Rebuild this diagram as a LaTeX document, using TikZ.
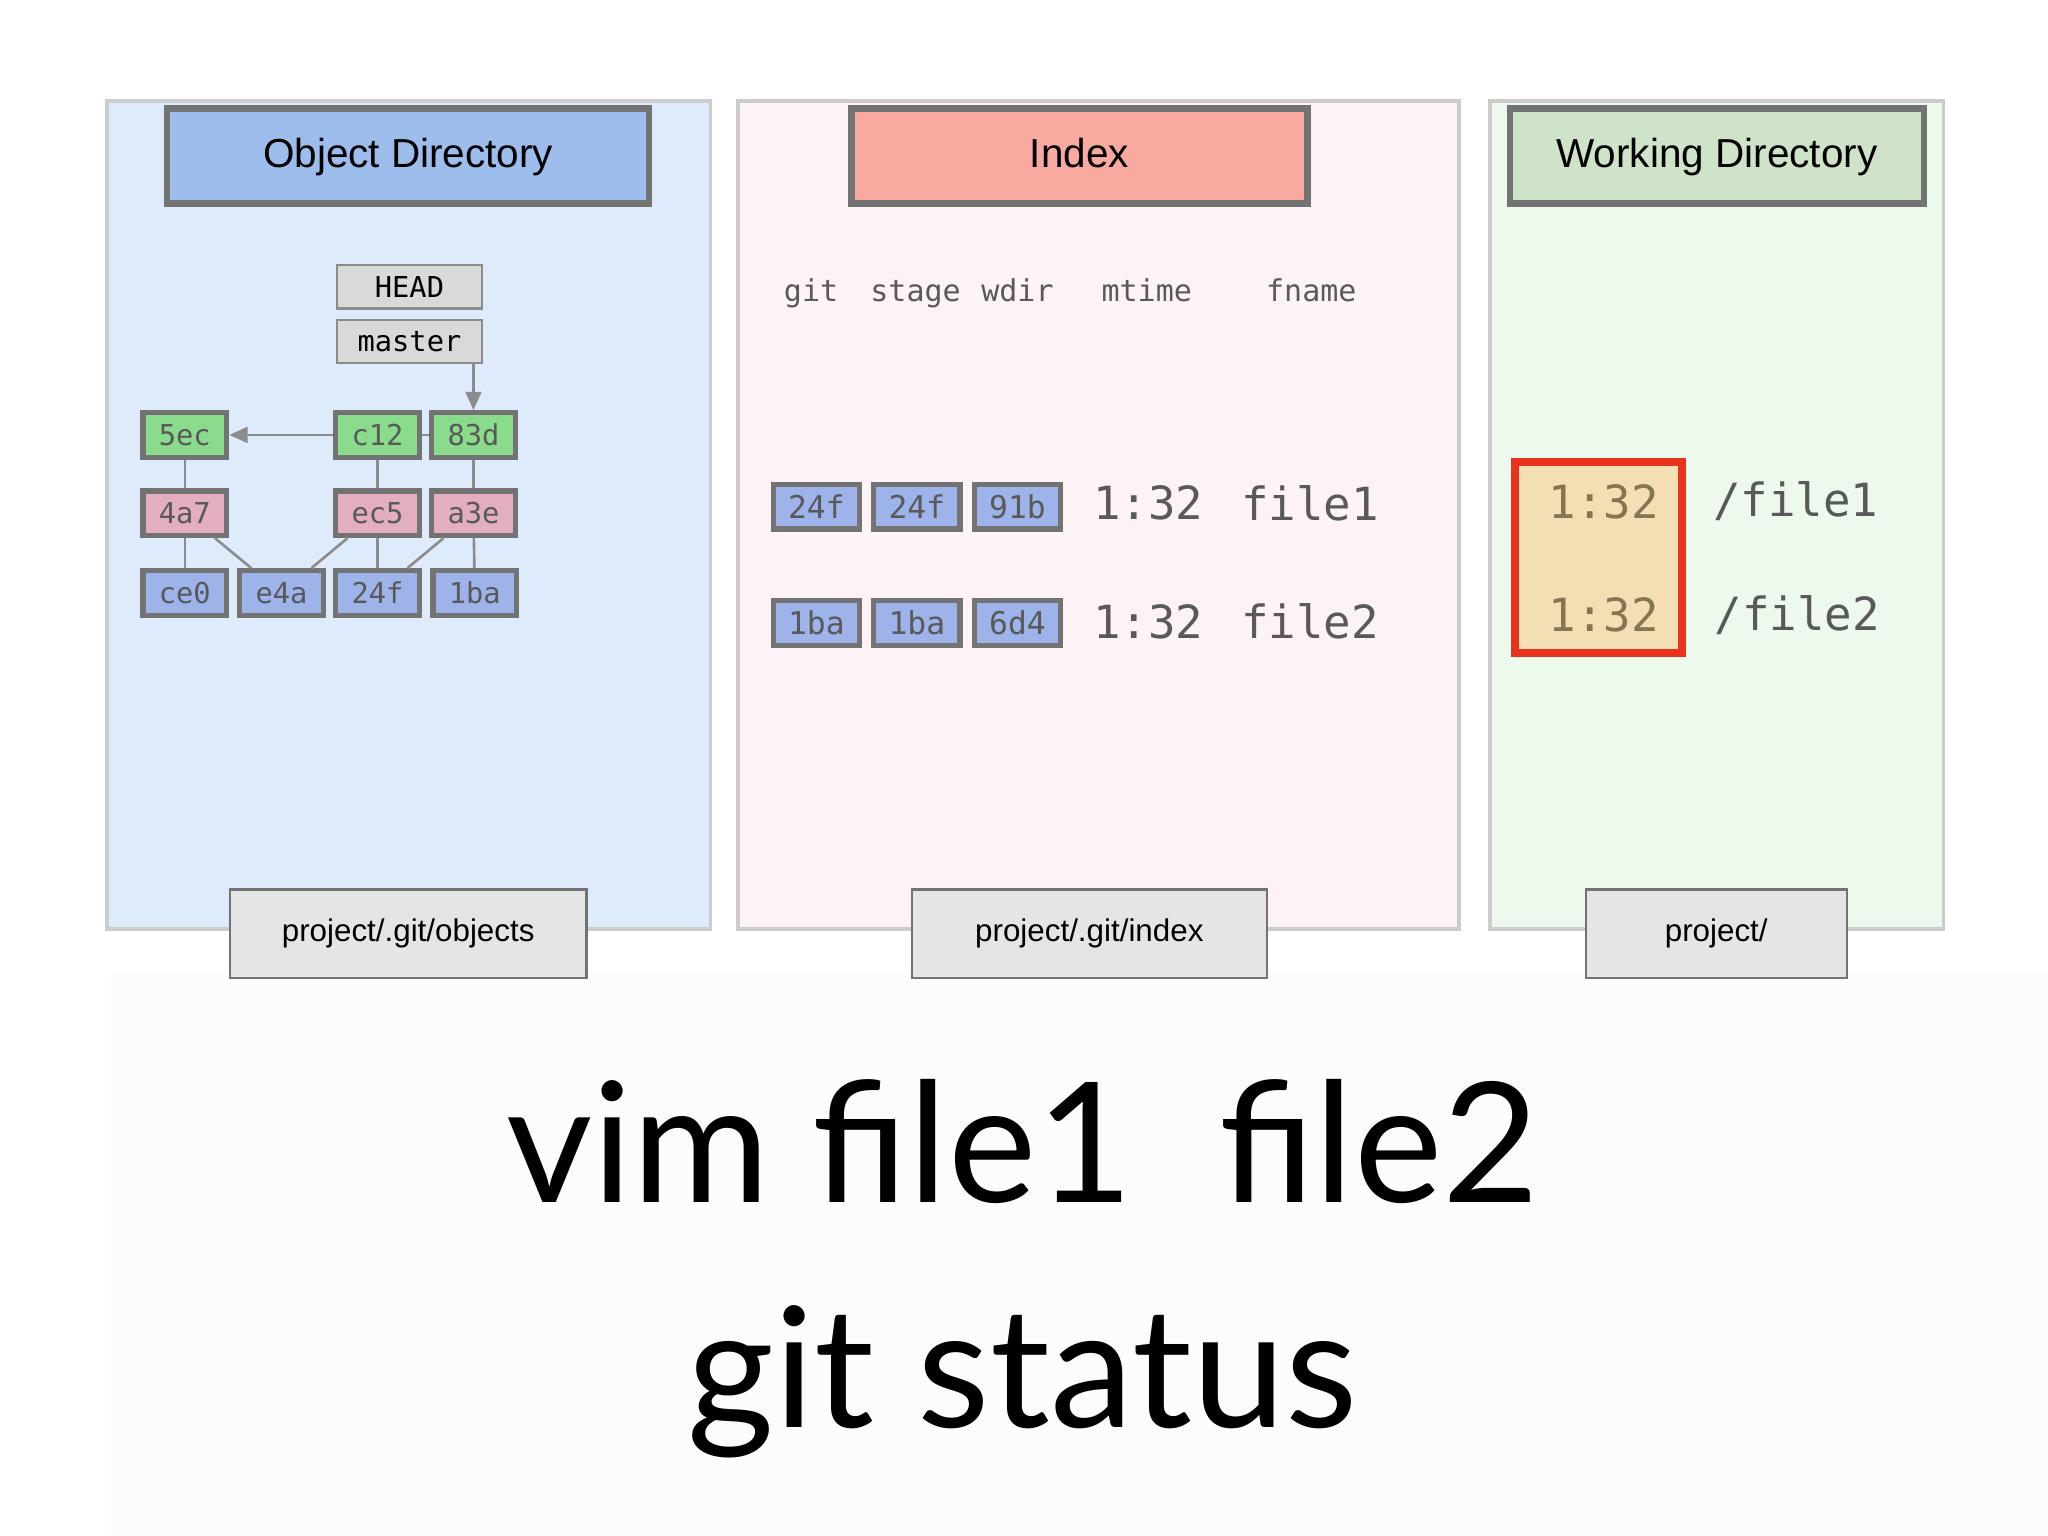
\documentclass[tikz,border=0pt]{standalone}
\usepackage{fontspec}
\usetikzlibrary{arrows.meta}
\setmainfont{Liberation Sans}
\setmonofont{DejaVu Sans Mono}
\newfontfamily\bigfont{Lato}
\begin{document}
\begin{tikzpicture}[x=0.5pt,y=-0.5pt,
  panel/.style={draw=black!20,line width=1.5pt},
  titlebox/.style={draw=black!55,line width=2.5pt,text height=10pt,text depth=1.5pt},
  pathbox/.style={draw=black!55,fill=black!10,line width=0.8pt,text height=8pt,text depth=2pt},
  obj/.style={draw=black!55,line width=2pt,font=\ttfamily\fontsize{11}{11}\selectfont,text=black!65},
  refb/.style={draw=black!45,fill=black!15,line width=1pt,font=\ttfamily\fontsize{11}{11}\selectfont,anchor=west,text=black},
  ln/.style={draw=black!45,line width=1pt},
  tip/.style={-{Triangle[length=7pt,width=6pt]}},
  idx/.style={font=\ttfamily\fontsize{17.5}{17.5}\selectfont,text=black!65},
  hdr/.style={font=\ttfamily\fontsize{11.5}{12}\selectfont,text=black!65,text height=8pt,text depth=2.5pt},
  ibox/.style={draw=black!55,line width=2pt,fill=cblue,font=\ttfamily\fontsize{12}{12}\selectfont,text=black!65,minimum width=33pt,minimum height=17pt,inner sep=0pt}]
\definecolor{cblue}{HTML}{9DB3EA}
\definecolor{cgreen}{HTML}{8ADC8C}
\definecolor{cpink}{HTML}{E2AEC0}
\definecolor{wtext}{HTML}{857552}
\useasboundingbox (0,0) rectangle (1568,1176);
\fill[white!99!black] (85,745) rectangle (1568,1176);
% panels
\path[panel,fill={rgb,255:red,222;green,235;blue,251}] (82,77) rectangle (544,711);
\path[panel,fill={rgb,255:red,253;green,243;blue,246}] (565,77) rectangle (1117,711);
\path[panel,fill={rgb,255:red,238;green,249;blue,238}] (1141,77) rectangle (1488,711);
% titles
\node[titlebox,fill={rgb,255:red,157;green,189;blue,237},minimum width=184.5pt,minimum height=36.5pt,font=\fontsize{15.5}{16}\selectfont] (t1) at (312.5,119.5) {Object Directory};
\node[titlebox,fill={rgb,255:red,248;green,169;blue,160},minimum width=174.5pt,minimum height=36.5pt,font=\fontsize{15.5}{16}\selectfont] (t2) at (826.5,119.5) {Index};
\node[titlebox,fill={rgb,255:red,207;green,227;blue,200},minimum width=158.5pt,minimum height=36.5pt,font=\fontsize{15.5}{16}\selectfont] (t3) at (1314.5,119.5) {Working Directory};
% path labels
\node[pathbox,minimum width=136.5pt,minimum height=34pt,font=\fontsize{12}{12}\selectfont] (p1) at (312.5,715) {project/.git/objects};
\node[pathbox,minimum width=136pt,minimum height=34pt,font=\fontsize{12}{12}\selectfont] (p2) at (834,715) {project/.git/index};
\node[pathbox,minimum width=100pt,minimum height=34pt,font=\fontsize{12}{12}\selectfont] (p3) at (1314,715) {project/};
% refs
\node[refb,minimum width=55.5pt,minimum height=16.5pt,inner sep=3pt] (head) at (257,219.5) {HEAD};
\node[refb,minimum width=55.5pt,minimum height=16.5pt,inner sep=3pt] (master) at (257,261.5) {master};
% objects
\foreach \n/\t/\x/\y/\c in {c5ec/5ec/141.5/333/cgreen, cc12/c12/289/333/cgreen, c83d/83d/362.5/333/cgreen,
  t4a7/4a7/141.5/393/cpink, tec5/ec5/289/393/cpink, ta3e/a3e/362.5/393/cpink,
  bce0/ce0/141.5/454/cblue, be4a/e4a/215.5/454/cblue, b24f/24f/289/454/cblue, b1ba/1ba/363.5/454/cblue}
  \node[obj,fill=\c,minimum width=32pt,minimum height=17pt,inner sep=0pt] (\n) at (\x,\y) {\t};
\draw[ln,tip] (cc12) -- (c5ec);
\draw[ln] (cc12) -- (c83d);
\draw[ln,tip] (master.south -| c83d) -- (c83d);
\draw[ln] (c5ec) -- (t4a7); \draw[ln] (cc12) -- (tec5); \draw[ln] (c83d) -- (ta3e);
\draw[ln] (t4a7) -- (bce0); \draw[ln] (t4a7) -- (be4a);
\draw[ln] (tec5) -- (be4a); \draw[ln] (tec5) -- (b24f);
\draw[ln] (ta3e) -- (b24f); \draw[ln] (ta3e) -- (b1ba);
% index header
\node[hdr] (hg) at (621,225) {git};
\node[hdr] (hs) at (701,225) {stage};
\node[hdr] (hw) at (779,225) {wdir};
\node[hdr] (hm) at (878,225) {mtime};
\node[hdr] (hf) at (1004,225) {fname};
% index rows
\node[ibox] (i11) at (625,388) {24f};
\node[ibox] (i12) at (702,388) {24f};
\node[ibox] (i13) at (779,388) {91b};
\node[idx] (i14) at (879,385) {1:32};
\node[idx] (i15) at (1003,385) {file1};
\node[ibox] (i21) at (625,477) {1ba};
\node[ibox] (i22) at (702,477) {1ba};
\node[ibox] (i23) at (779,477) {6d4};
\node[idx] (i24) at (879,476) {1:32};
\node[idx] (i25) at (1003,476) {file2};
% working dir
\node[draw={rgb,255:red,232;green,50;blue,30},line width=3pt,fill={rgb,255:red,244;green,223;blue,180},minimum width=64pt,minimum height=73pt] (wbox) at (1224,427) {};
\node[idx,text=wtext] (w1) at (1228,384) {1:32};
\node[idx,text=wtext] (w2) at (1228,471) {1:32};
\node[idx] (f1) at (1375,384) {/file1};
\node[idx] (f2) at (1376,471) {/file2};
% big text
\node[font=\bigfont\fontsize{64}{64}\selectfont] (cmd1) at (783,874) {vim file1\ \ file2};
\node[font=\bigfont\fontsize{64}{64}\selectfont] (cmd2) at (783,1058) {git status};
\end{tikzpicture}
\end{document}
